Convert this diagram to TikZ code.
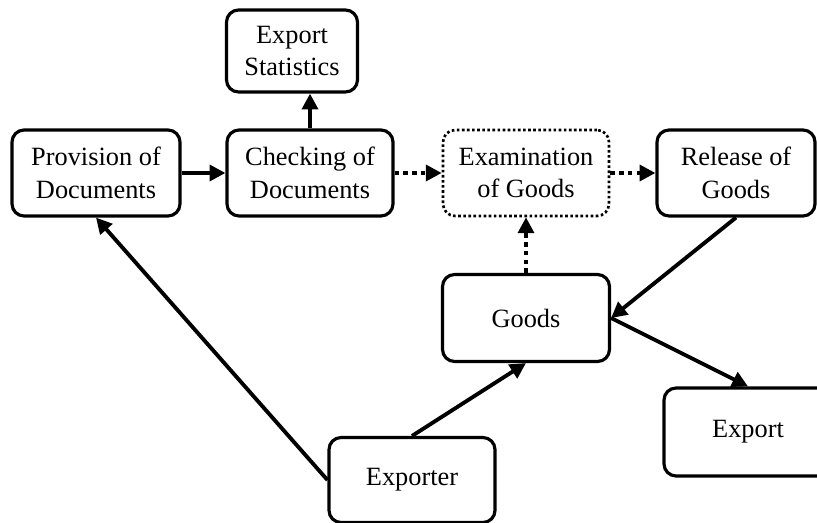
\documentclass[tikz,border=0pt]{standalone}
\usepackage{fontspec}
\setmainfont{Liberation Serif}
\usetikzlibrary{arrows.meta}

\begin{document}
\begin{tikzpicture}[x=0.02cm,y=-0.02cm,
  box/.style={draw,line width=1.8pt,rounded corners=0.24cm,align=center,
    minimum width=3.32cm,minimum height=1.72cm,inner sep=0pt,
    font=\fontsize{15}{18.5}\selectfont},
  dotbox/.style={box,line width=1.5pt,dash pattern=on 1.5pt off 1.4pt},
  link/.style={line width=2.2pt,-{Triangle[length=9pt,width=9pt]}},
  dotlink/.style={link,dash pattern=on 2.6pt off 2.4pt}]
\useasboundingbox (0,0) rectangle (817,523);
% nodes
\node[box,minimum width=2.62cm,minimum height=1.64cm] (stats) at (292,51) {Export\\Statistics};
\node[box,minimum width=3.36cm] (prov) at (96,173) {Provision of\\Documents};
\node[box] (check) at (310,173) {Checking of\\Documents};
\node[dotbox] (exam) at (526,173) {Examination\\of Goods};
\node[box,minimum width=3.16cm] (release) at (736,173) {Release of\\Goods};
\node[box,minimum width=3.34cm,minimum height=1.74cm] (goods) at (526,318) {Goods};
\node[box,minimum width=3.36cm,minimum height=1.76cm] (export) at (748,432) {Export};
\node[box,minimum height=1.7cm] (exporter) at (412,480) {Exporter};
% connectors
\draw[link] (prov.east) -- (check.west);
\draw[link] (check.north) -- (check.north |- stats.south);
\draw[dotlink] (check.east) -- (exam.west);
\draw[dotlink] (exam.east) -- (release.west);
\draw[dotlink] (goods.north) -- (exam.south);
\draw[link] (release.south) -- (goods.east);
\draw[link] (goods.east) -- (export.north);
\draw[link] (exporter.north) -- (goods.south);
\draw[link] (exporter.west) -- (prov.south);
\end{tikzpicture}
\end{document}
